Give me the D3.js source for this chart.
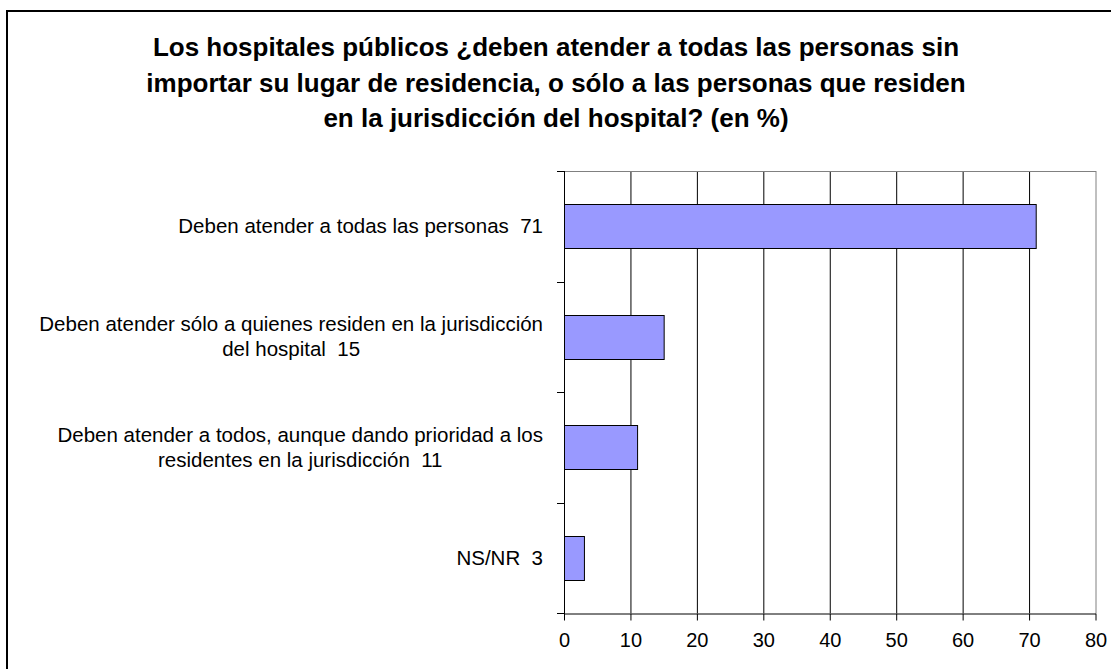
<!DOCTYPE html>
<html>
<head>
<meta charset="utf-8">
<script src="https://cdn.jsdelivr.net/npm/d3@7"></script>
<style>
  body { margin: 0; background: #fff; }
  svg { display: block; font-family: "Liberation Sans", Arial, sans-serif; }
  text { white-space: pre; }
</style>
</head>
<body>
<div id="chart"></div>
<script>
// data
const titleLines = [
  "Los hospitales públicos ¿deben atender a todas las personas sin",
  "importar su lugar de residencia, o sólo a las personas que residen",
  "en la jurisdicción del hospital? (en %)"
];
const categories = [
  ["Deben atender a todas las personas  71"],
  ["Deben atender sólo a quienes residen en la jurisdicción", "del hospital  15"],
  ["Deben atender a todos, aunque dando prioridad a los", "residentes en la jurisdicción  11"],
  ["NS/NR  3"]
];
const values = [71, 15, 11, 3];
const xTicks = [0, 10, 20, 30, 40, 50, 60, 70, 80];

const width = 1111, height = 669;
const margin = {top: 171, right: 16, bottom: 56, left: 564};

const svg = d3.select("#chart").append("svg")
    .attr("width", width)
    .attr("height", height);

// outer frame
svg.append("rect")
    .attr("x", 7).attr("y", 11)
    .attr("width", 1120).attr("height", 700)
    .attr("fill", "none")
    .attr("stroke", "#000")
    .attr("stroke-width", 2);

svg.append("g")
    .attr("text-anchor", "middle")
    .style("font", "bold 26px 'Liberation Sans', Arial, sans-serif")
  .selectAll("text")
  .data(titleLines)
  .join("text")
    .attr("x", 556)
    .attr("y", (d, i) => 56 + i * 35.5)
    .text(d => d);

const x = d3.scaleLinear()
    .domain([0, 80])
    .range([margin.left, 1095.5]);

const y = d3.scaleBand()
    .domain(d3.range(categories.length))
    .range([margin.top, height - margin.bottom])
    .paddingInner(0.6)
    .paddingOuter(0.3);

const plotBottom = height - margin.bottom;

// gridlines
svg.append("g")
    .selectAll("line")
    .data(xTicks.slice(1))
    .join("line")
    .attr("x1", d => x(d) + 0.5).attr("x2", d => x(d) + 0.5)
    .attr("y1", margin.top).attr("y2", plotBottom)
    .attr("stroke", d => d === 80 ? "#808080" : "#000")
    .attr("stroke-width", 1);

svg.append("line")
    .attr("x1", margin.left).attr("x2", x(80) + 0.5)
    .attr("y1", margin.top + 0.5).attr("y2", margin.top + 0.5)
    .attr("stroke", "#808080");

// bars
svg.append("g")
    .selectAll("rect")
    .data(values)
    .join("rect")
    .attr("x", x(0) + 0.5)
    .attr("y", (d, i) => Math.round(y(i)) + 0.5)
    .attr("width", d => x(d) - x(0))
    .attr("height", Math.round(y.bandwidth()))
    .attr("fill", "#9999ff")
    .attr("stroke", "#000")
    .attr("stroke-width", 1);

// x axis
const xAxis = svg.append("g")
    .attr("transform", `translate(0,${plotBottom + 0.5})`)
    .call(d3.axisBottom(x).tickValues(xTicks).tickSize(7).tickSizeOuter(0).tickPadding(12));
xAxis.select(".domain").attr("stroke", "#000");
xAxis.selectAll(".tick line").attr("stroke", "#000");
xAxis.selectAll("text")
    .attr("fill", "#000")
    .style("font", "20px 'Liberation Sans', Arial, sans-serif");

// y axis (ticks between categories)
const yTicks = d3.range(categories.length + 1)
    .map(i => margin.top + i * (plotBottom - margin.top) / categories.length);
svg.append("line")
    .attr("x1", margin.left + 0.5).attr("x2", margin.left + 0.5)
    .attr("y1", margin.top).attr("y2", plotBottom + 7)
    .attr("stroke", "#000");
svg.append("g")
    .selectAll("line")
    .data(yTicks)
    .join("line")
    .attr("x1", margin.left - 7).attr("x2", margin.left)
    .attr("y1", d => Math.round(d) + 0.5).attr("y2", d => Math.round(d) + 0.5)
    .attr("stroke", "#000");

// category labels, centered lines in a right-aligned block
const labels = svg.append("g")
    .style("font", "20.5px 'Liberation Sans', Arial, sans-serif")
    .attr("fill", "#000");

categories.forEach((lines, i) => {
  const g = labels.append("g");
  const cy = y(i) + y.bandwidth() / 2;
  const lh = 25;
  const texts = g.selectAll("text")
      .data(lines)
      .join("text")
      .attr("text-anchor", "middle")
      .attr("y", (d, j) => cy + (j - (lines.length - 1) / 2) * lh)
      .attr("dy", "0.35em")
      .text(d => d);
  let w = 0;
  texts.each(function() { w = Math.max(w, this.getComputedTextLength()); });
  texts.attr("x", 543 - w / 2);
});
</script>
</body>
</html>
